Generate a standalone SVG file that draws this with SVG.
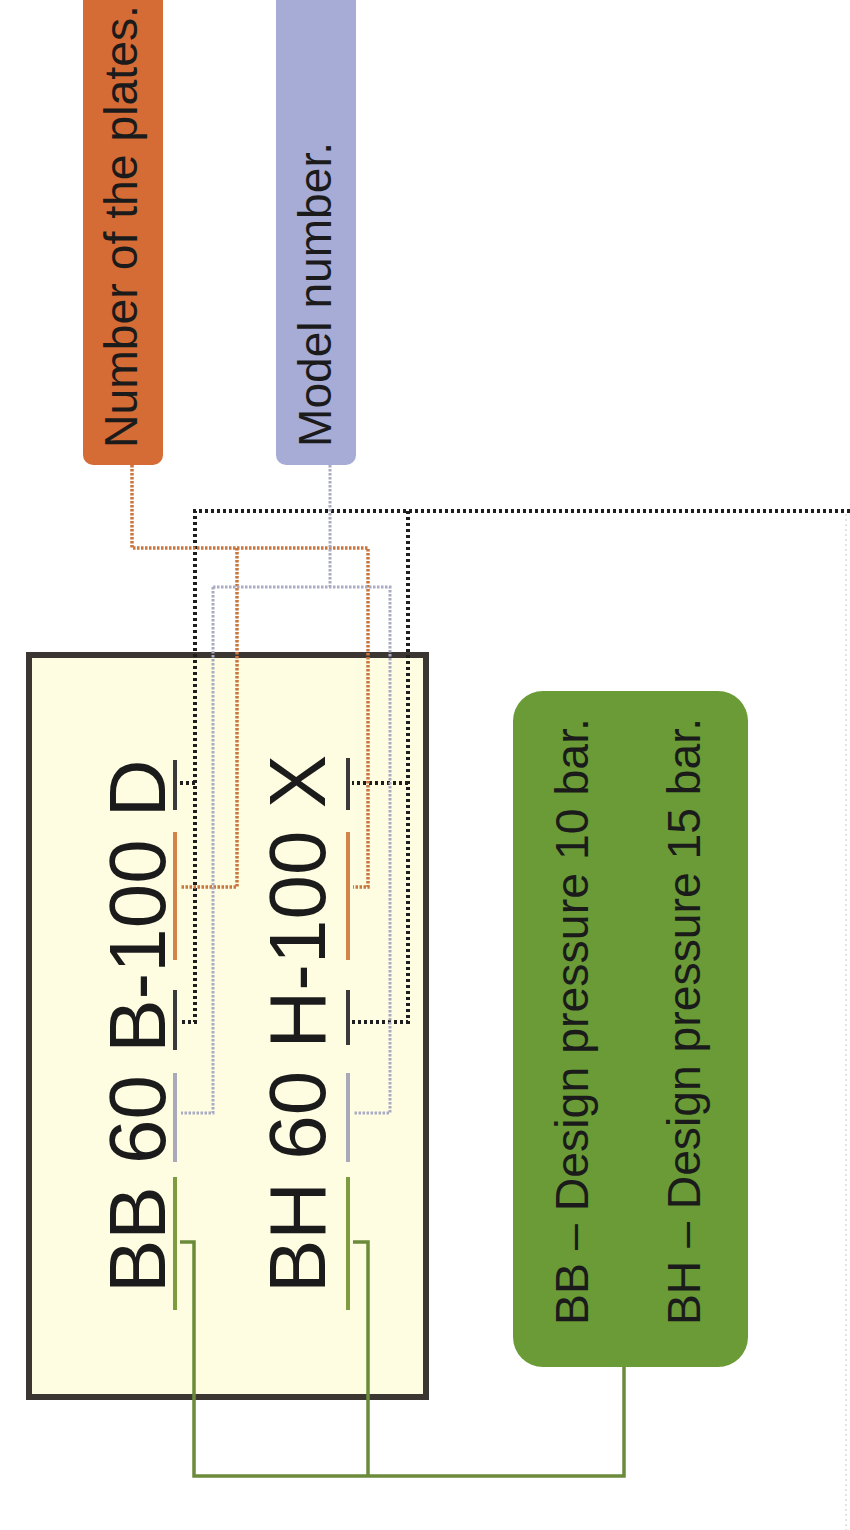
<svg xmlns="http://www.w3.org/2000/svg" width="850" height="1530" viewBox="0 0 850 1530">
<style>
text{font-family:"Liberation Sans",Arial,sans-serif;fill:#1b1b1b}
.lbl{font-size:46px}
.big{font-size:80px}
.blk{fill:none;stroke:#1e1e1e;stroke-width:4;stroke-dasharray:3 3}
.org{fill:none;stroke:#C9763F;stroke-width:3.5;stroke-dasharray:2.5 1.5}
.gry{fill:none;stroke:#A9ABC4;stroke-width:3;stroke-dasharray:2.5 1.5}
.grn{fill:none;stroke:#6B8B3A;stroke-width:3.5}
.ul{stroke-width:4;fill:none}
</style>
<rect width="850" height="1530" fill="#FFFFFF"/>
<g id="frame">
<line x1="846" y1="514" x2="846" y2="1530" stroke="#DADADA" stroke-width="1.5" stroke-dasharray="2 3"/>
</g>
<g id="model-box">
<rect x="29" y="655" width="397" height="742" fill="#FFFDE1" stroke="#3B3631" stroke-width="6"/>
<text class="big" transform="translate(165,1293) rotate(-90)">BB 60 B-100 D</text>
<text class="big" transform="translate(325,1293) rotate(-90)">BH 60 H-100 X</text>
</g>
<g id="plates-node">
<rect x="83" y="-15" width="80" height="480" rx="10" fill="#D66C35"/>
<text class="lbl" transform="translate(137,448) rotate(-90)" textLength="443" lengthAdjust="spacingAndGlyphs">Number of the plates.</text>
</g>
<g id="model-node">
<rect x="276" y="-15" width="80" height="480" rx="10" fill="#A6ACD6"/>
<text class="lbl" transform="translate(331,447) rotate(-90)" textLength="305" lengthAdjust="spacingAndGlyphs">Model number.</text>
</g>
<g id="pressure-node">
<rect x="513" y="691" width="235" height="676" rx="30" fill="#6A9B36"/>
<text class="lbl" transform="translate(588,1325) rotate(-90)" textLength="607" lengthAdjust="spacingAndGlyphs">BB – Design pressure 10 bar.</text>
<text class="lbl" transform="translate(700,1325) rotate(-90)" textLength="607" lengthAdjust="spacingAndGlyphs">BH – Design pressure 15 bar.</text>
</g>
<g id="underlines">
<line class="ul" x1="175" y1="1177" x2="175" y2="1310" stroke="#7D9B3F"/>
<line class="ul" x1="175" y1="1073" x2="175" y2="1162" stroke="#A9A9BA"/>
<line class="ul" x1="175" y1="990" x2="175" y2="1050" stroke="#3A3A3A"/>
<line class="ul" x1="175" y1="832" x2="175" y2="960" stroke="#D2844A"/>
<line class="ul" x1="175" y1="760" x2="175" y2="810" stroke="#3A3A3A"/>
<line class="ul" x1="348" y1="1177" x2="348" y2="1310" stroke="#7D9B3F"/>
<line class="ul" x1="348" y1="1073" x2="348" y2="1162" stroke="#A9A9BA"/>
<line class="ul" x1="348" y1="990" x2="348" y2="1045" stroke="#3A3A3A"/>
<line class="ul" x1="348" y1="832" x2="348" y2="960" stroke="#D2844A"/>
<line class="ul" x1="348" y1="758" x2="348" y2="810" stroke="#3A3A3A"/>
</g>
<g id="connectors">
<path class="blk" d="M850 511 H195 V1022 H180 M195 783 H180 M408 511 V1022 H352 M408 783 H352"/>
<path class="org" d="M132 465 V548 H368 V887 H353 M237 548 V887 H181"/>
<path class="gry" d="M330 465 V587 M213 587 H390 V1113 H354 M213 587 V1113 H181"/>
<path class="grn" d="M624 1367 V1476 H194 V1242 H180 M368 1476 V1242 H353"/>
</g>
</svg>
